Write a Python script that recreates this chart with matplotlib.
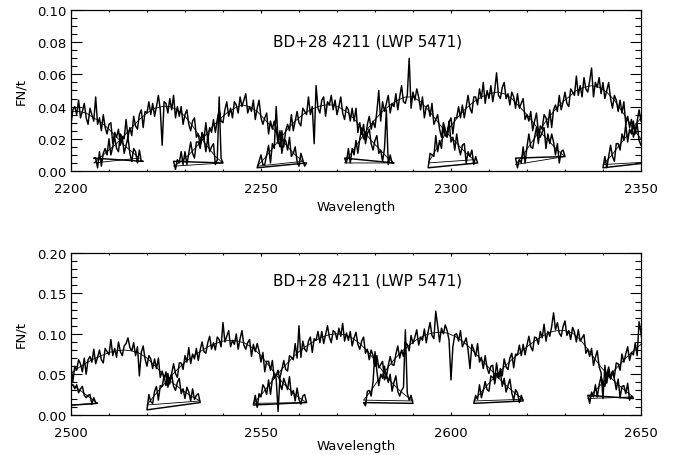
import numpy as np
import matplotlib.pyplot as plt
from matplotlib.ticker import MultipleLocator, FormatStrFormatter

title = "BD+28 4211 (LWP 5471)"

# top panel: first wavelength (A) of each echelle order
top_start = [2188, 2206, 2227, 2249, 2272, 2294, 2317, 2340]
# FN/t in units of 1e-3, one value every 0.5 A
top_flux = [
    [24, 19, 31, 25, 30, 35, 24, 30, 28, 37, 27, 35, 42, 32, 31, 36, 41, 29, 40, 36,
     43, 39, 32, 41, 29, 38, 40, 35, 44, 33, 37, 42, 33, 29, 39, 35, 31, 46, 29, 33,
     25, 35, 27, 23, 29, 30, 17, 24, 21, 26, 16, 21, 11, 16, 21, 11, 6, 14, 12, 5,
     13, 6, 6],
    [8, 8, 2, 12, 3, 11, 14, 10, 20, 10, 15, 21, 14, 12, 23, 21, 20, 32, 21, 27,
     22, 34, 28, 26, 35, 38, 27, 37, 36, 43, 35, 42, 34, 40, 47, 38, 16, 43, 42, 36,
     45, 38, 47, 33, 40, 34, 40, 29, 35, 38, 29, 25, 31, 33, 21, 23, 16, 23, 20, 12,
     21, 12, 15, 17, 4, 7, 46, 8, 5],
    [6, 1, 7, 5, 12, 4, 12, 4, 11, 18, 11, 8, 18, 18, 14, 24, 20, 30, 19, 27,
     24, 32, 24, 32, 38, 31, 30, 38, 43, 34, 39, 33, 43, 41, 36, 46, 40, 44, 48, 36,
     40, 37, 44, 32, 39, 44, 33, 29, 33, 36, 23, 31, 26, 31, 26, 17, 25, 11, 19, 19,
     13, 21, 9, 11, 15, 6, 3, 11, 7, 3, 5],
    [2, 6, 10, 4, 4, 10, 16, 5, 17, 14, 40, 20, 15, 25, 15, 25, 29, 25, 35, 25,
     31, 37, 30, 28, 39, 37, 35, 46, 35, 40, 17, 53, 39, 36, 44, 46, 34, 43, 41, 47,
     38, 44, 35, 40, 46, 36, 32, 40, 38, 31, 39, 31, 39, 24, 30, 23, 29, 17, 23, 26,
     17, 13, 19, 22, 11, 13, 6, 14, 38, 4, 10, 5, 5],
    [8, 5, 14, 5, 14, 10, 19, 11, 20, 26, 20, 20, 29, 34, 26, 31, 27, 37, 50, 31,
     43, 37, 42, 47, 36, 42, 40, 48, 38, 46, 53, 43, 42, 47, 70, 39, 49, 44, 51, 46,
     38, 46, 33, 40, 41, 34, 42, 29, 32, 35, 26, 21, 30, 26, 22, 31, 18, 21, 13, 23,
     15, 10, 16, 17, 5, 12, 9, 13, 4, 9, 5],
    [2, 11, 10, 9, 22, 12, 19, 14, 27, 22, 21, 30, 33, 23, 33, 33, 40, 33, 41, 33,
     40, 47, 39, 36, 46, 46, 41, 51, 45, 55, 42, 50, 45, 53, 43, 50, 61, 47, 45, 52,
     55, 45, 48, 41, 49, 46, 39, 48, 39, 42, 45, 32, 35, 31, 37, 25, 31, 36, 24, 21,
     24, 27, 14, 23, 17, 23, 18, 10, 17, 5, 12, 13, 9],
    [8, 2, 7, 5, 15, 5, 15, 23, 15, 14, 21, 27, 17, 28, 26, 35, 33, 27, 38, 27,
     38, 41, 37, 47, 38, 43, 49, 42, 40, 51, 49, 47, 59, 47, 53, 46, 58, 51, 49, 56,
     64, 46, 55, 52, 58, 48, 55, 45, 50, 55, 45, 39, 47, 44, 37, 44, 36, 43, 29, 34,
     27, 32, 21, 26, 29, 19, 16, 21, 24, 12, 15, 7, 15, 11, 4, 11, 6],
    [2, 9, 2, 9, 16, 9, 6, 17, 17, 13, 23, 19, 29, 18, 26, 23, 31, 23, 31, 38,
     31, 30, 38, 44, 35, 40, 35],
]
# blaze fit in units of 1e-3, one value every 2 A
top_fit = [
    [22, 27, 31, 34, 36, 37, 37, 37, 36, 33, 30, 26, 21, 16, 12, 8],
    [5, 9, 13, 17, 22, 27, 32, 36, 39, 40, 40, 38, 34, 28, 21, 15, 9, 5],
    [3, 6, 10, 15, 21, 27, 32, 36, 39, 41, 40, 37, 32, 27, 21, 15, 10, 6],
    [3, 8, 14, 20, 26, 31, 35, 38, 40, 41, 41, 39, 36, 31, 25, 19, 14, 9, 5],
    [5, 12, 19, 26, 32, 37, 41, 44, 46, 46, 43, 38, 32, 26, 21, 16, 11, 7],
    [5, 13, 21, 28, 34, 39, 43, 46, 48, 49, 48, 45, 40, 35, 29, 23, 18, 13, 9],
    [4, 10, 17, 24, 31, 37, 42, 46, 50, 52, 53, 52, 49, 44, 37, 30, 23, 17, 11, 6],
    [4, 9, 15, 21, 27, 33, 38],
]

# bottom panel
bot_start = [2493, 2492, 2520, 2548, 2577, 2606, 2636]
bot_flux = [
    [64, 60, 65, 66, 55, 57, 51, 57, 53, 45, 52, 44, 46, 47, 35, 37, 32, 37, 27, 32,
     35, 24, 21, 24, 25, 13, 21, 15, 14],
    [9, 6, 26, 17, 27, 37, 19, 30, 28, 44, 28, 44, 57, 42, 40, 51, 59, 41, 60, 55,
     68, 63, 53, 70, 50, 68, 72, 65, 81, 63, 71, 80, 68, 64, 82, 78, 74, 93, 73, 82,
     71, 90, 78, 73, 85, 88, 95, 83, 79, 89, 73, 84, 48, 77, 85, 69, 60, 73, 69, 57,
     69, 57, 70, 46, 54, 44, 53, 34, 44, 50, 35, 30, 40, 45, 26, 32, 20, 34, 28, 17,
     32, 19, 24, 26, 15],
    [6, 25, 16, 14, 29, 35, 18, 36, 35, 48, 36, 51, 38, 51, 63, 51, 46, 64, 64, 56,
     73, 65, 83, 63, 75, 69, 82, 67, 80, 90, 78, 76, 89, 97, 81, 89, 80, 96, 93, 84,
     114, 90, 97, 104, 84, 92, 87, 100, 81, 94, 104, 86, 81, 89, 93, 72, 87, 78, 88, 79,
     65, 77, 53, 66, 66, 55, 67, 45, 49, 55, 39, 31, 45, 38, 31, 47, 24, 30, 17, 33,
     19, 13, 23, 25, 15],
    [12, 24, 9, 26, 22, 37, 33, 25, 43, 25, 44, 50, 45, 4, 46, 56, 67, 56, 54, 73,
     71, 68, 88, 70, 110, 71, 91, 81, 78, 91, 96, 77, 94, 92, 103, 89, 103, 88, 99, 110,
     96, 89, 104, 102, 93, 107, 97, 113, 91, 101, 92, 103, 85, 95, 102, 87, 81, 91, 96, 76,
     81, 68, 80, 73, 60, 73, 58, 62, 66, 43, 48, 40, 50, 29, 40, 48, 29, 23, 30, 34,
     105, 27, 18, 24, 14],
    [15, 11, 29, 30, 23, 41, 78, 54, 36, 50, 45, 60, 46, 61, 72, 62, 61, 75, 85, 70,
     80, 72, 89, 87, 79, 98, 88, 96, 105, 86, 96, 92, 106, 89, 103, 114, 98, 94, 128, 110,
     90, 107, 100, 111, 104, 92, 43, 84, 99, 100, 91, 104, 84, 89, 95, 80, 57, 87, 80, 72,
     88, 65, 71, 57, 73, 58, 51, 60, 61, 38, 51, 45, 53, 35, 45, 28, 36, 44, 27, 18,
     31, 27, 15, 24, 17],
    [14, 24, 19, 37, 21, 30, 41, 31, 29, 48, 46, 43, 64, 46, 57, 48, 69, 59, 56, 70,
     76, 58, 75, 74, 86, 73, 87, 74, 86, 97, 84, 79, 96, 95, 87, 103, 95, 112, 91, 103,
     97, 109, 126, 105, 114, 101, 97, 109, 116, 98, 104, 93, 108, 102, 90, 105, 91, 95, 99, 76,
     81, 72, 82, 61, 71, 79, 59, 52, 20, 61, 39, 53, 44, 53, 44, 31, 44, 21, 35, 36,
     26, 39, 18, 23, 20],
    [24, 14, 28, 22, 37, 22, 37, 47, 37, 35, 50, 59, 45, 54, 47, 64, 63, 55, 75, 65,
     75, 84, 67, 77, 74, 89, 73, 115, 101, 85, 83, 93, 101, 82, 101, 95, 108],
]
bot_fit = [
    [66, 58, 51, 43, 35, 28, 21, 14],
    [10, 22, 33, 43, 51, 58, 64, 69, 73, 77, 79, 80, 79, 76, 70, 61, 51, 42, 35, 28, 22, 17],
    [12, 24, 35, 46, 56, 65, 72, 78, 84, 88, 91, 92, 91, 88, 82, 73, 61, 49, 38, 29, 21, 15],
    [14, 24, 36, 48, 59, 69, 78, 85, 91, 96, 99, 100, 99, 95, 88, 79, 67, 54, 42, 32, 24, 17],
    [18, 30, 44, 56, 68, 78, 86, 93, 98, 101, 102, 101, 97, 91, 83, 73, 63, 53, 43, 34, 26, 19],
    [17, 28, 39, 49, 59, 68, 76, 84, 91, 97, 102, 104, 104, 101, 93, 81, 68, 56, 46, 37, 29, 22],
    [20, 30, 40, 50, 60, 70, 79, 87, 93, 98],
]


def orders(starts, values, step):
    # all orders strung into one line, like the original plot
    xs, ys = [], []
    for s, v in zip(starts, values):
        xs.extend(s + step * np.arange(len(v)))
        ys.extend(np.array(v) * 1e-3)
    return xs, ys


plt.rcParams['font.family'] = 'DejaVu Sans'
plt.rcParams['font.size'] = 9.5

fig = plt.figure(figsize=(6.74, 4.56), dpi=100)
ax1 = fig.add_axes([0.1053, 0.6228, 0.8457, 0.3531])
ax2 = fig.add_axes([0.1053, 0.0884, 0.8457, 0.3546])

panels = [
    (ax1, top_start, top_flux, top_fit, (2200, 2350), 0.10, 0.02, 0.005, 0.81, -0.180),
    (ax2, bot_start, bot_flux, bot_fit, (2500, 2650), 0.20, 0.05, 0.01, 0.833, -0.150),
]

for ax, st, fl, ft, xr, ymax, ymaj, ymin, ty, xly in panels:
    x, y = orders(st, fl, 0.5)
    ax.plot(x, y, color='black', lw=1.05)
    x, y = orders(st, ft, 2)
    ax.plot(x, y, color='black', lw=0.6)

    ax.set_xlim(*xr)
    ax.set_ylim(0, ymax)
    ax.xaxis.set_major_locator(MultipleLocator(50))
    ax.xaxis.set_minor_locator(MultipleLocator(10))
    ax.yaxis.set_major_locator(MultipleLocator(ymaj))
    ax.yaxis.set_minor_locator(MultipleLocator(ymin))
    ax.yaxis.set_major_formatter(FormatStrFormatter('%.2f'))
    ax.xaxis.set_major_formatter(FormatStrFormatter('%d'))

    ax.tick_params(which='both', direction='in', top=True, right=True, width=0.8)
    ax.tick_params(axis='y', which='major', length=7.7, pad=3)
    ax.tick_params(axis='y', which='minor', length=4)
    ax.tick_params(axis='x', which='major', length=2.4, pad=8)
    ax.tick_params(axis='x', which='minor', length=1.2)
    for sp in ax.spines.values():
        sp.set_linewidth(0.9)

    ax.set_xlabel('Wavelength')
    ax.xaxis.set_label_coords(0.5, xly)
    ax.xaxis.label.set_va('top')
    ax.set_ylabel('FN/t')
    ax.yaxis.set_label_coords(-0.077, 0.5)

    ax.text(0.521, ty, title, transform=ax.transAxes, ha='center', va='center',
            fontsize=11)

fig.canvas.draw()
# IDL keeps the end labels inside the box
for ax in (ax1, ax2):
    labs = ax.get_yticklabels()
    labs[0].set_va('bottom')
    labs[-1].set_va('top')

fig.savefig('out.png', dpi=100)
